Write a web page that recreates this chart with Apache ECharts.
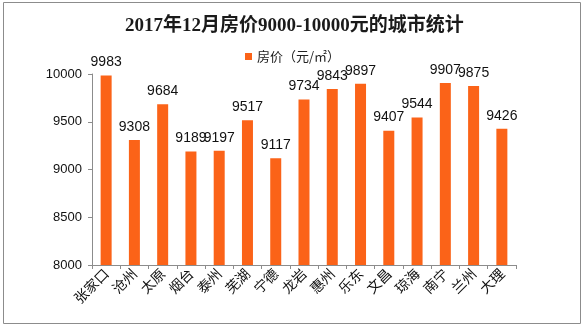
<!DOCTYPE html>
<html><head><meta charset="utf-8">
<script src="https://cdn.jsdelivr.net/npm/echarts@6/dist/echarts.min.js"></script>
<style>html,body{margin:0;padding:0;background:#fff}#c{width:583px;height:326px}</style>
</head><body><div id="c"></div>
<script>
var titleText = '2017年12月房价9000-10000元的城市统计';
var seriesName = '房价（元/㎡）';
var cities = ['张家口','沧州','太原','烟台','泰州','芜湖','宁德','龙岩','惠州','乐东','文昌','琼海','南宁','兰州','大理'];
var prices = [9983,9308,9684,9189,9197,9517,9117,9734,9843,9897,9407,9544,9907,9875,9426];
var yTicks = [8000,8500,9000,9500,10000];

var chart = echarts.init(document.getElementById('c'));
chart.setOption({
  animation:false,
  backgroundColor:'#fff',
  title:{text:titleText,left:120,top:12,textStyle:{fontFamily:'Liberation Serif, Noto Sans CJK SC',fontSize:19,fontWeight:'bold',color:'#1a1a1a'}},
  legend:{data:[seriesName],left:240,top:45,icon:'rect',itemWidth:7,itemHeight:7,itemGap:4,textStyle:{fontFamily:'Noto Sans CJK SC',fontSize:13,color:'#222'}},
  graphic:[{type:'rect',shape:{x:3.5,y:2.5,width:577,height:321},style:{fill:'none',stroke:'#8c8c8c',lineWidth:1},silent:true}],
  grid:{left:92,top:74,right:67,bottom:61},
  xAxis:{type:'category',data:cities,
    axisLine:{lineStyle:{color:'#8c8c8c'}},
    axisTick:{show:true,length:4,lineStyle:{color:'#8c8c8c'}},
    axisLabel:{rotate:45,margin:6,fontFamily:'Noto Sans CJK SC',fontSize:14,color:'#111'}},
  yAxis:{type:'value',min:yTicks[0],max:yTicks[yTicks.length-1],interval:500,
    axisLine:{show:true,lineStyle:{color:'#8c8c8c'}},
    axisTick:{show:true,length:4,lineStyle:{color:'#8c8c8c'}},
    splitLine:{show:false},
    axisLabel:{margin:10,fontFamily:'Liberation Sans',fontSize:13,color:'#111',formatter:function(v){return String(v);}}},
  series:[{name:seriesName,type:'bar',data:prices,barWidth:11,
    itemStyle:{color:'#fb6318'},
    label:{show:true,position:'top',distance:6,fontFamily:'Liberation Sans',fontSize:14,color:'#111'}}]
});
</script></body></html>
